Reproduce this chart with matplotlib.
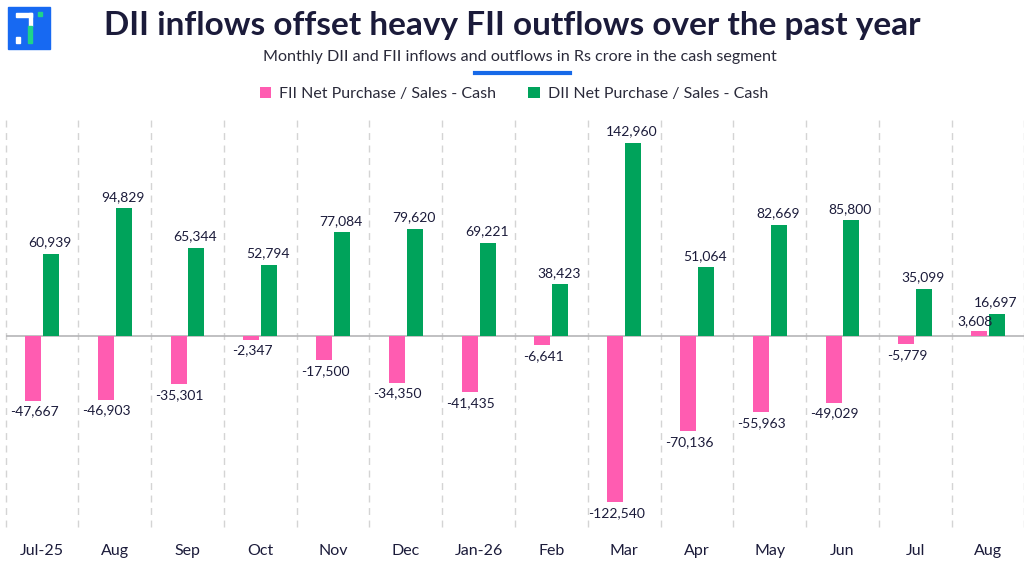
import matplotlib.pyplot as plt
import matplotlib.patches as mpatches
import numpy as np

months = ["Jul-25", "Aug", "Sep", "Oct", "Nov", "Dec", "Jan-26",
          "Feb", "Mar", "Apr", "May", "Jun", "Jul", "Aug"]
fii = [-47667, -46903, -35301, -2347, -17500, -34350, -41435,
       -6641, -122540, -70136, -55963, -49029, -5779, 3608]
dii = [60939, 94829, 65344, 52794, 77084, 79620, 69221,
       38423, 142960, 51064, 82669, 85800, 35099, 16697]

PINK = "#ff5cb1"
GREEN = "#00a35b"
NAVY = "#1b1b3a"
plt.rcParams['font.family'] = ['Lato', 'DejaVu Sans']

fig = plt.figure(figsize=(10.24, 5.76), dpi=100)
W, H = 1024, 576

def fx(px):
    return px / W

def fy(py):
    return 1 - py / H

# logo
fig.patches.append(mpatches.Rectangle((fx(8), fy(49)), fx(42), 42 / H,
                                      color="#1769f2", transform=fig.transFigure))
for (x0, y0, x1, y1, c) in [(16, 13, 32, 17, "white"), (29, 13, 32, 26, "white"),
                            (16, 37, 20, 43, "white"), (28, 26, 32, 43, "#1fd38a"),
                            (38, 12, 42, 16, "#1fd38a")]:
    fig.patches.append(mpatches.Rectangle((fx(x0), fy(y1)), fx(x1 - x0), (y1 - y0) / H,
                                          color=c, transform=fig.transFigure))

fig.text(0.5, fy(26), "DII inflows offset heavy FII outflows over the past year",
         ha="center", va="center", fontsize=24, fontweight="bold", color=NAVY)
fig.text(fx(520), fy(57), "Monthly DII and FII inflows and outflows in Rs crore in the cash segment",
         ha="center", va="center", fontsize=11.6, color="#2a2a3a")
fig.lines.append(plt.Line2D([fx(475), fx(570)], [fy(73), fy(73)], color="#1769e8",
                            lw=3, transform=fig.transFigure))

ax = fig.add_axes([fx(5.6), fy(527), fx(1018.8), (527 - 120) / H])
x = np.arange(len(months))
w = 0.22
ax.bar(x - w / 2 - 0.013, fii, w, color=PINK, label="FII Net Purchase / Sales - Cash", zorder=3)
ax.bar(x + w / 2 + 0.013, dii, w, color=GREEN, label="DII Net Purchase / Sales - Cash", zorder=3)

for i in range(len(months)):
    v = fii[i]
    if v < 0:
        ax.text(x[i] - w / 2, v - 3500, f"{v:,}", ha="center", va="top",
                fontsize=10, color=NAVY)
    else:
        ax.text(x[i] - w / 2 - 0.07, v + 3500, f"{v:,}", ha="center", va="bottom",
                fontsize=10, color=NAVY)
    ax.text(x[i] + w / 2, dii[i] + 4000, f"{dii[i]:,}", ha="center", va="bottom",
            fontsize=10, color=NAVY)

for b in np.arange(-0.5, len(months), 1.0):
    ax.axvline(b, color="#d4d4d4", lw=1, ls=(0, (5, 4)), zorder=1, clip_on=False)
ax.axhline(0, color="#b5b5b8", lw=1.2, zorder=2)

ax.set_xlim(-0.5, len(months) - 0.5)
ax.set_ylim(-141000, 160000)
ax.set_xticks(x)
ax.set_xticklabels(months, fontsize=11.5, color=NAVY)
ax.tick_params(axis="x", length=0, pad=12)
ax.set_yticks([])
for s in ax.spines.values():
    s.set_visible(False)

fig.legend(loc="center", bbox_to_anchor=(fx(514), fy(94)), ncol=2, frameon=False,
           fontsize=11.5, handlelength=0.7, handleheight=0.7, handletextpad=0.5,
           columnspacing=2.0, labelcolor="#2a2a3a")

fig.savefig("out.png", dpi=100)
